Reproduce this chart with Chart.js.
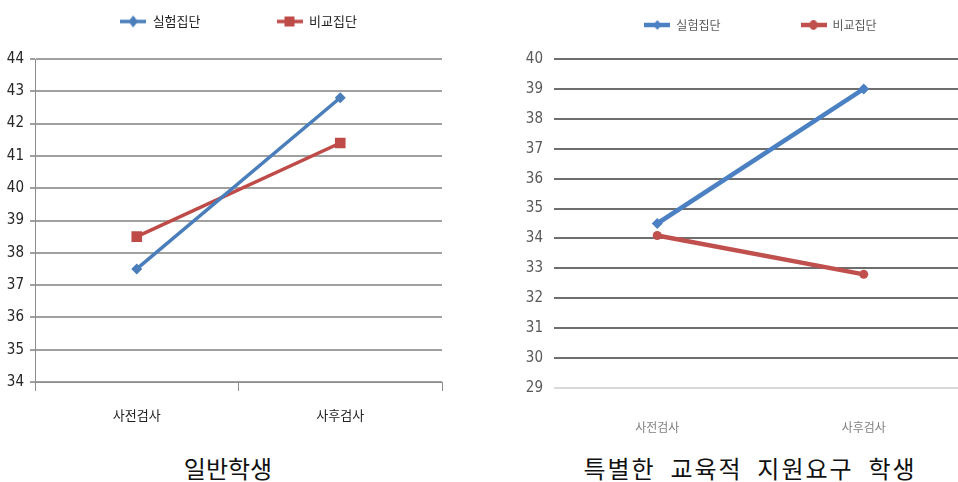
<!DOCTYPE html>
<html lang="ko">
<head>
<meta charset="utf-8">
<title>실험집단 · 비교집단 사전/사후검사</title>
<script src="https://cdn.jsdelivr.net/npm/chart.js@4.4.1/dist/chart.umd.min.js"></script>
<style>
  html, body { margin: 0; padding: 0; width: 958px; height: 482px; overflow: hidden; background: #fff; }
  canvas { position: absolute; top: 0; }
  #chartGeneral { left: 0; }
  #chartSpecial { left: 490px; }
  .caption {
    position: absolute; top: 450px; color: #111; text-align: center; white-space: nowrap;
    font-family: "Noto Sans CJK KR", sans-serif; font-size: 24px;
  }
  #capGeneral { left: 128px; width: 200px; }
  #capSpecial { left: 550px; width: 400px; letter-spacing: 2px; word-spacing: 6px; }
</style>
</head>
<body>
<canvas id="chartGeneral" width="480" height="440"></canvas>
<canvas id="chartSpecial" width="480" height="440"></canvas>
<div class="caption" id="capGeneral"></div>
<div class="caption" id="capSpecial"></div>

<script>
  // === DATA ===
  const categories = ["사전검사", "사후검사"];
  const seriesNames = ["실험집단", "비교집단"];
  const captions = ["일반학생", "특별한 교육적 지원요구 학생"];

  // 일반학생
  const generalExp = [37.5, 42.8];
  const generalCmp = [38.5, 41.4];
  const generalRange = [34, 44];

  // 특별한 교육적 지원요구 학생
  const specialExp = [34.5, 39.0];
  const specialCmp = [34.1, 32.8];
  const specialRange = [29, 40];

  const BLUE = "#4a7ebb";
  const RED = "#be4b48";
  const KR = '"Noto Sans CJK KR", sans-serif';
  const NARROW = '"Liberation Sans Narrow", "Arial Narrow", "DejaVu Sans Condensed", sans-serif';

  document.getElementById("capGeneral").textContent = captions[0];
  document.getElementById("capSpecial").textContent = captions[1];

  // legend swatch: short line with the series marker in the middle
  function swatch(color, shape, lineW, r) {
    const c = document.createElement("canvas");
    c.width = 26;
    c.height = 16;
    const g = c.getContext("2d");
    g.strokeStyle = color;
    g.fillStyle = color;
    g.lineWidth = lineW;
    g.beginPath();
    g.moveTo(0, 8);
    g.lineTo(26, 8);
    g.stroke();
    g.beginPath();
    if (shape === "rect") {
      g.rect(13 - r, 8 - r, 2 * r, 2 * r);
    } else if (shape === "rectRot") {
      g.moveTo(13, 8 - r);
      g.lineTo(13 + r * 0.8, 8);
      g.lineTo(13, 8 + r);
      g.lineTo(13 - r * 0.8, 8);
      g.closePath();
    } else {
      g.ellipse(13, 8, r * 0.8, r, 0, 0, Math.PI * 2);
    }
    g.fill();
    return c;
  }

  // fixed legend box height, so the plot area starts at the same place in both charts
  const legendBox = h => ({
    id: "legendBox",
    beforeInit(chart) {
      const fit = chart.legend.fit;
      chart.legend.fit = function () {
        fit.call(this);
        this.height = h;
      };
    }
  });

  function lineChart(id, cfg) {
    const swatches = cfg.markers.map(m => swatch(m.color, m.shape, cfg.lineWidth, m.legendR));
    return new Chart(document.getElementById(id), {
      type: "line",
      data: {
        labels: categories,
        datasets: cfg.series.map((values, i) => ({
          label: seriesNames[i],
          data: values,
          borderColor: cfg.markers[i].color,
          backgroundColor: cfg.markers[i].color,
          borderWidth: cfg.lineWidth,
          pointStyle: cfg.markers[i].shape,
          pointRadius: cfg.markers[i].r,
          pointBorderWidth: 0,
          tension: 0
        }))
      },
      options: {
        responsive: false,
        animation: false,
        events: [],
        layout: { padding: cfg.padding, autoPadding: false },
        plugins: {
          tooltip: { enabled: false },
          legend: {
            fullSize: false,
            labels: {
              usePointStyle: true,
              pointStyleWidth: 26,
              padding: cfg.legendGap,
              color: cfg.legendColor,
              font: { family: KR, size: cfg.legendFont },
              generateLabels(chart) {
                const items = Chart.defaults.plugins.legend.labels.generateLabels(chart);
                items.forEach((it, i) => (it.pointStyle = swatches[i]));
                return items;
              }
            }
          }
        },
        scales: cfg.scales
      },
      plugins: [legendBox(cfg.legendHeight)]
    });
  }

  // === 일반학생 ===
  lineChart("chartGeneral", {
    series: [generalExp, generalCmp],
    lineWidth: 3.5,
    markers: [
      { color: BLUE, shape: "rectRot", r: 5.5, legendR: 6 },
      { color: RED, shape: "rect", r: 7.5, legendR: 5 }
    ],
    padding: { top: -61, right: 38, bottom: 0, left: 0 },
    legendHeight: 120,
    legendGap: 76,
    legendFont: 13,
    legendColor: "#222",
    scales: {
      x: {
        offset: true,
        grid: { offset: true, drawOnChartArea: false, tickLength: 9, color: "#8c8c8c", lineWidth: 1 },
        border: { color: "#8c8c8c", width: 1 },
        ticks: { padding: 16, color: "#222", font: { family: KR, size: 13 } },
        afterFit: s => { s.height = 58; }
      },
      y: {
        min: generalRange[0],
        max: generalRange[1],
        ticks: { stepSize: 1, padding: 6, color: "#262626", font: { family: NARROW, size: 15 } },
        grid: { color: "#a0a0a0", lineWidth: 2, tickLength: 5 },
        border: { color: "#8c8c8c", width: 1 },
        afterFit: s => { s.width = 35; }
      }
    }
  });

  // === 특별한 교육적 지원요구 학생 ===
  lineChart("chartSpecial", {
    series: [specialExp, specialCmp],
    lineWidth: 4.5,
    markers: [
      { color: "#4b80c2", shape: "rectRot", r: 5.5, legendR: 5 },
      { color: "#c0504d", shape: "circle", r: 4.5, legendR: 5 }
    ],
    padding: { top: -61, right: 3, bottom: 0, left: 0 },
    legendHeight: 120,
    legendGap: 80,
    legendFont: 12,
    legendColor: "#595959",
    scales: {
      x: {
        offset: true,
        grid: { display: false, drawTicks: false },
        border: { display: false },
        ticks: { padding: 32, color: "#7f7f7f", font: { family: KR, size: 12 } },
        afterFit: s => { s.height = 52; }
      },
      y: {
        min: specialRange[0],
        max: specialRange[1],
        ticks: { stepSize: 1, padding: 11, color: "#595959", font: { family: NARROW, size: 15 } },
        grid: {
          drawTicks: false,
          lineWidth: 2,
          color: c => (c.tick && c.tick.value === specialRange[0] ? "#d9d9d9" : "#6e6e6e")
        },
        border: { display: false },
        afterFit: s => { s.width = 64; }
      }
    }
  });
</script>
</body>
</html>
